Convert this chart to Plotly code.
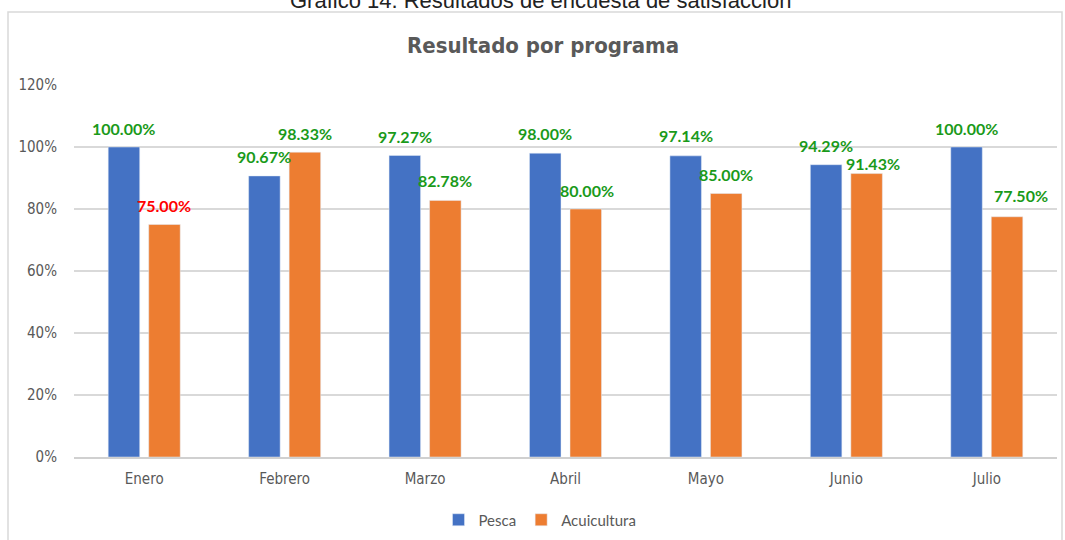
import plotly.graph_objects as go

meses = ["Enero", "Febrero", "Marzo", "Abril", "Mayo", "Junio", "Julio"]
pesca = [1.0, 0.9067, 0.9727, 0.98, 0.9714, 0.9429, 1.0]
acuicultura = [0.75, 0.9833, 0.8278, 0.80, 0.85, 0.9143, 0.775]
y_ticks = [0, 0.2, 0.4, 0.6, 0.8, 1.0, 1.2]
y_ticktext = ["0%", "20%", "40%", "60%", "80%", "100%", "120%"]

# label placement tweaks (pixels)
pesca_dx = [0, 0, 0, 0, 0, 0, 0]
pesca_dy = [19, 19, 19, 20, 20, 19, 19]
acu_dx = [0, 0, 0, 1, 0, 6, 14]
acu_dy = [19, 19, 20, 19, 19, 10, 21]
green = "#1a9a1a"
acu_colors = ["#ff0000", green, green, green, green, green, green]

narrow = "DejaVu Sans Condensed, Liberation Sans Narrow, sans-serif"
gray = "#595959"

fig = go.Figure()
fig.add_trace(go.Bar(x=meses, y=pesca, name="Pesca", marker_color="#4472C4"))
fig.add_trace(go.Bar(x=meses, y=acuicultura, name="Acuicultura", marker_color="#ED7D31"))

ML, MR, MT, MB = 74, 8, 85, 83
W, H = 1065, 540
pw, ph = W - ML - MR, H - MT - MB
slot_off = 20.25

ann = []
for i, m in enumerate(meses):
    ann.append(dict(x=m, y=pesca[i], xref="x", yref="y", text=f"{pesca[i]*100:.2f}%",
                    showarrow=False, xshift=-slot_off + pesca_dx[i], yshift=pesca_dy[i],
                    yanchor="middle",
                    font=dict(family="Lato, sans-serif", size=16, color=green, weight="bold")))
    ann.append(dict(x=m, y=acuicultura[i], xref="x", yref="y", text=f"{acuicultura[i]*100:.2f}%",
                    showarrow=False, xshift=slot_off + acu_dx[i], yshift=acu_dy[i],
                    yanchor="middle",
                    font=dict(family="Lato, sans-serif", size=16, color=acu_colors[i], weight="bold")))


def px_x(p):
    return (p - ML) / pw


def px_y(p):
    return (H - MB - p) / ph


ann.append(dict(x=px_x(540), y=px_y(1), xref="paper", yref="paper",
                text="Gráfico 14. Resultados de encuesta de satisfacción", showarrow=False,
                yanchor="middle", xanchor="center",
                font=dict(family="Liberation Sans, Arial, sans-serif", size=22, color="#222222")))

fig.update_layout(
    width=W, height=H,
    margin=dict(l=ML, r=MR, t=MT, b=MB, autoexpand=False),
    paper_bgcolor="white", plot_bgcolor="white",
    title=dict(text="<b>Resultado por programa</b>", x=px_x(543), xref="paper", xanchor="center",
               y=1 - 45 / H, yanchor="middle",
               font=dict(family=narrow, size=22, color=gray)),
    barmode="group", bargap=0.423, bargroupgap=0.222,
    showlegend=True,
    legend=dict(orientation="h", x=px_x(540), xanchor="center", y=px_y(520), yanchor="middle",
                font=dict(family="Lato, sans-serif", size=15, color=gray), itemwidth=30,
                traceorder="normal"),
    xaxis=dict(showgrid=False, showline=True, linecolor="#d0d0d0", linewidth=2, automargin=False,
               tickfont=dict(family=narrow, size=15, color=gray), ticks="", ticklabelstandoff=7),
    yaxis=dict(range=[0, 1.2], tickvals=y_ticks, ticktext=y_ticktext, automargin=False,
               showgrid=True, gridcolor="#d9d9d9", gridwidth=1.5, zeroline=False,
               showline=False, ticks="", ticklabelstandoff=16,
               tickfont=dict(family=narrow, size=15, color=gray)),
    annotations=ann,
    shapes=[dict(type="rect", xref="paper", yref="paper",
                 x0=px_x(8), x1=px_x(1062), y0=px_y(560), y1=px_y(12),
                 line=dict(color="#d9d9d9", width=1.5), layer="below")],
)

fig.write_html("out.html", config={"displayModeBar": False},
               post_script="document.body.style.margin='0';document.body.style.overflow='hidden';")
